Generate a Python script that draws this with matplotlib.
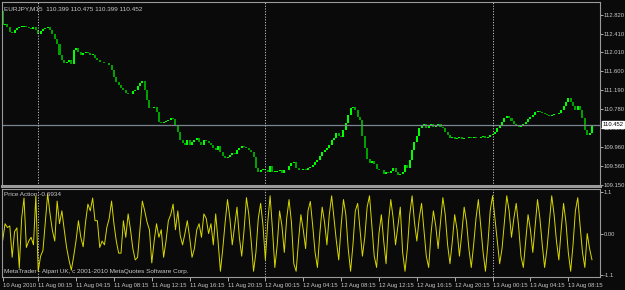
import matplotlib

matplotlib.use("Agg")
import matplotlib.pyplot as plt
from matplotlib.transforms import blended_transform_factory

plt.rcParams["font.family"] = ["Liberation Sans Narrow", "Liberation Sans", "DejaVu Sans"]

# EURJPY M15 closes, one per bar (10 Aug 20:15 .. 13 Aug ~10:30)
first_open = 112.90
closes = [
    112.60, 112.62, 112.56, 112.45, 112.43, 112.50, 112.54, 112.56, 112.56, 112.58,
    112.56, 112.54, 112.52, 112.56, 112.50, 112.40, 112.48, 112.52, 112.54, 112.55,
    112.50, 112.40, 112.30, 112.20, 111.96, 111.85, 111.78, 111.80, 111.85, 111.76,
    112.06, 112.10, 112.02, 111.96, 112.00, 112.03, 112.00, 111.96, 111.96, 111.89,
    111.85, 111.80, 111.80, 111.78, 111.78, 111.74, 111.63, 111.48, 111.37, 111.31,
    111.25, 111.20, 111.14, 111.11, 111.12, 111.18, 111.20, 111.28, 111.36, 111.40,
    111.20, 110.98, 110.81, 110.81, 110.83, 110.72, 110.51, 110.49, 110.51, 110.53,
    110.55, 110.59, 110.57, 110.44, 110.29, 110.12, 110.06, 110.01, 110.12, 110.01,
    110.08, 110.12, 110.16, 110.08, 110.01, 110.12, 110.10, 110.06, 110.01, 109.95,
    109.90, 109.99, 109.86, 109.77, 109.73, 109.75, 109.80, 109.84, 109.82, 109.90,
    109.94, 109.99, 109.97, 109.94, 109.90, 109.86, 109.75, 109.52, 109.43, 109.47,
    109.49, 109.47, 109.43, 109.56, 109.43, 109.43, 109.45, 109.47, 109.41, 109.47,
    109.47, 109.56, 109.62, 109.64, 109.51, 109.47, 109.47, 109.49, 109.47, 109.51,
    109.54, 109.58, 109.64, 109.69, 109.77, 109.86, 109.90, 109.94, 110.01, 110.12,
    110.16, 110.27, 110.21, 110.19, 110.34, 110.49, 110.66, 110.81, 110.83, 110.77,
    110.62, 110.55, 110.20, 109.95, 109.71, 109.62, 109.66, 109.60, 109.50, 109.47,
    109.47, 109.39, 109.43, 109.41, 109.45, 109.51, 109.43, 109.36, 109.39, 109.43,
    109.58, 109.51, 109.69, 109.90, 110.08, 110.21, 110.38, 110.44, 110.47, 110.38,
    110.42, 110.47, 110.40, 110.44, 110.47, 110.40, 110.38, 110.29, 110.23, 110.16,
    110.18, 110.14, 110.16, 110.18, 110.14, 110.16, 110.16, 110.18, 110.16, 110.18,
    110.16, 110.16, 110.18, 110.21, 110.16, 110.18, 110.23, 110.25, 110.29, 110.38,
    110.44, 110.51, 110.60, 110.64, 110.60, 110.53, 110.47, 110.42, 110.40, 110.42,
    110.47, 110.51, 110.57, 110.62, 110.66, 110.73, 110.75, 110.73, 110.70, 110.68,
    110.66, 110.64, 110.66, 110.68, 110.68, 110.70, 110.77, 110.86, 110.94, 111.03,
    110.94, 110.86, 110.77, 110.86, 110.77, 110.60, 110.34, 110.23, 110.27, 110.452,
]

# "Price Action" oscillator, one value per bar
price_action = [
    -0.18, 0.26, 0.16, 0.20, -0.63, 0.05, 0.15, -0.92, 0.40, 0.94,
    -0.37, -0.20, -0.10, -0.30, 1.00, -1.00, -0.60, -0.45, 0.30, 1.05,
    0.52, 0.08, -0.20, 0.86, 0.26, 0.60, 0.10, -0.37, -0.70, -0.97,
    -0.60, -0.18, 0.34, -0.10, -0.35, 0.30, 0.78, 0.60, 0.94, 0.34,
    0.34, -0.37, -0.20, -0.30, 0.16, 0.40, 0.86, 0.26, -0.20, -0.52,
    -0.52, 0.34, -0.10, 0.52, 0.10, -0.40, -0.70, -0.63, 0.10, 0.86,
    0.60, 0.30, 0.10, -0.78, -0.20, 0.26, -0.10, 0.10, -0.63, -0.20,
    0.34, 0.50, 0.78, 0.10, 0.60, -0.05, -0.30, 0.00, 0.34, -0.10,
    -0.63, -0.40, 0.10, 0.26, -0.10, 0.52, 0.40, 0.00, 0.26, -0.30,
    0.52, -0.20, -1.00, -0.40, 0.30, 0.90, 0.40, -0.30, 0.20, 0.70,
    -0.10, -0.60, 0.10, 0.95, 0.50, -0.20, -1.00, -0.50, 0.40, 0.80,
    0.20, -0.70, 0.30, 1.00, 0.10, -0.90, -0.30, 0.60, 0.20, -0.50,
    0.40, 0.90, 0.30, -0.80, -1.00, -0.20, 0.50, 0.10, -0.40, 0.60,
    0.85, 0.20, -0.50, -0.90, 0.00, 0.70, 0.30, -0.30, 0.50, 1.00,
    0.40, -0.20, -0.70, 0.20, 0.90, 0.50, -0.40, -1.00, -0.30, 0.60,
    0.80, 0.10, -0.60, -0.10, 0.70, 1.00, 0.20, -0.60, -0.90, 0.00,
    0.50, -0.20, -0.80, 0.30, 0.90, 0.40, -0.30, 0.20, 0.70, -0.50,
    -1.00, -0.40, 0.50, 1.00, 0.30, -0.20, 0.40, 0.80, 0.10, -0.60,
    -0.90, 0.00, 0.60, 0.20, -0.40, 0.30, 0.95, 0.50, -0.30, -0.80,
    -0.20, 0.50, 0.10, -0.60, 0.00, 0.70, 0.30, -0.40, -0.90, -0.30,
    0.40, 0.90, 0.20, -0.50, -1.00, -0.30, 0.60, 1.00, 0.40, -0.20,
    -0.80, -0.40, 0.30, 1.00, 0.60, -0.10, 0.40, 0.80, 0.20, -0.60,
    -0.90, -0.20, 0.50, 0.10, -0.50, 0.20, 0.90, 0.40, -0.30, -0.90,
    -0.40, 0.30, 1.00, 0.50, -0.20, -0.70, 0.10, 0.80, 0.30, -0.50,
    -1.00, -0.30, 0.60, 0.95, 0.20, -0.50, -0.90, 0.00, -0.40, -0.6934,
]

price_ticks = [112.820, 112.410, 112.010, 111.600, 111.190, 110.780,
               110.370, 109.960, 109.560, 109.150]
ind_ticks = [1.1, 0.0, -1.1]
ind_tick_labels = ["1.1", "0.00", "-1.1"]
day_starts = [15, 111, 207]
time_tick_bars = [0, 15, 31, 47, 63, 79, 95, 111, 127, 143, 159, 175, 191, 207, 223, 239]
time_labels = ["10 Aug 2010", "11 Aug 00:15", "11 Aug 04:15", "11 Aug 08:15",
               "11 Aug 12:15", "11 Aug 16:15", "11 Aug 20:15", "12 Aug 00:15",
               "12 Aug 04:15", "12 Aug 08:15", "12 Aug 12:15", "12 Aug 16:15",
               "12 Aug 20:15", "13 Aug 00:15", "13 Aug 04:15", "13 Aug 08:15"]
last_price = 110.452

W, H = 625, 290
BG = "#0a0a0a"
FG = "#c8c8c8"
FRAME = "#9a9a9a"
FS = 4.2


def px_rect(left, top, right, bottom):
    return [left / W, 1 - bottom / H, (right - left) / W, (bottom - top) / H]


fig = plt.figure(figsize=(W / 100, H / 100), dpi=100, facecolor=BG)
ax = fig.add_axes(px_rect(2, 2, 600, 186), facecolor=BG)
ax2 = fig.add_axes(px_rect(2, 189, 600, 277), facecolor=BG)

n = len(closes)
bars = list(range(n))
opens = [first_open] + closes[:-1]

up_x, up_b, up_h = [], [], []
dn_x, dn_b, dn_h = [], [], []
for i in bars:
    o = opens[i]
    c = closes[i]
    h = max(abs(c - o), 0.012)
    if c >= o:
        up_x.append(i)
        up_b.append(o)
        up_h.append(h)
    else:
        dn_x.append(i)
        dn_b.append(c)
        dn_h.append(h)

ax.bar(up_x, up_h, bottom=up_b, width=0.85, color="#00ff00", linewidth=0)
ax.bar(dn_x, dn_h, bottom=dn_b, width=0.85, color="#00a000", linewidth=0)

ax.axhline(last_price, color="#7a8590", linewidth=0.9)

xmin, xmax = -0.3, 252.4
for a in (ax, ax2):
    a.set_xlim(xmin, xmax)
    for d in day_starts:
        a.axvline(d, color="#c0c0c0", linewidth=0.7, linestyle=(0, (1.2, 1.6)))
    for s in a.spines.values():
        s.set_color(FRAME)
        s.set_linewidth(0.8)
    a.yaxis.tick_right()
    a.tick_params(axis="y", colors=FG, labelsize=FS, length=2.2, width=0.6, pad=0.6)

ax.set_ylim(109.127, 113.10)
ax.set_yticks(price_ticks)
ax.set_yticklabels(["%.3f" % t for t in price_ticks])
ax.set_xticks([])
ax.spines["bottom"].set_linewidth(2.2)

ax.text(1.004, last_price, "%.3f" % last_price,
        transform=blended_transform_factory(ax.transAxes, ax.transData),
        fontsize=FS, color="black", va="center", ha="left", zorder=5,
        bbox=dict(boxstyle="square,pad=0.12", facecolor="white", edgecolor="white"))

ax.text(0.004, 0.975, "EURJPY,M15  110.399 110.475 110.399 110.452", transform=ax.transAxes,
        fontsize=FS + 0.4, color=FG, va="top", ha="left")

ax2.plot(bars, price_action, color="#d8d800", linewidth=0.7)
ax2.set_ylim(-1.152, 1.18)
ax2.set_yticks(ind_ticks)
ax2.set_yticklabels(ind_tick_labels)
ax2.set_xticks(time_tick_bars)
ax2.set_xticklabels(time_labels)
ax2.tick_params(axis="x", colors=FG, labelsize=FS, length=3, width=0.6, pad=1.5)
for lab in ax2.get_xticklabels():
    lab.set_ha("left")

ax2.text(0.004, 0.97, "Price Action -0.6934", transform=ax2.transAxes,
         fontsize=FS + 0.4, color=FG, va="top", ha="left")
ax2.text(0.004, 0.03, "MetaTrader - Alpari UK, c 2001-2010 MetaQuotes Software Corp.",
         transform=ax2.transAxes, fontsize=FS + 0.4, color=FG, va="bottom", ha="left")

fig.savefig("out.png", dpi=100, facecolor=BG)
